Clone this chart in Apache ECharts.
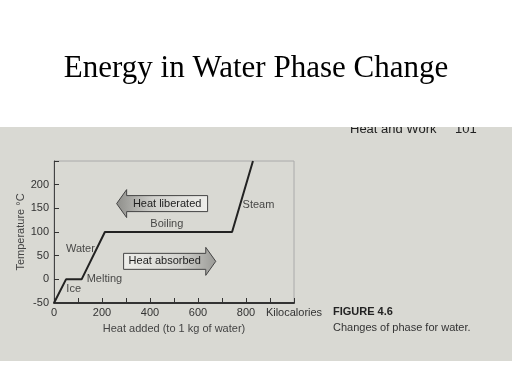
<!DOCTYPE html>
<html><head><meta charset="utf-8">
<script src="https://cdn.jsdelivr.net/npm/echarts@6/dist/echarts.min.js"></script>
<style>html,body{margin:0;padding:0;background:#fff}#c{width:512px;height:384px}</style>
</head><body><div id="c"></div>
<script>
// Heat added (kcal) vs temperature (°C)
var heatAdded = [0, 50, 115, 212, 742, 829];
var temperature = [-50, 0, 0, 100, 100, 250];
var xTicks = [0, 200, 400, 600, 800];
var yTicks = [-50, 0, 50, 100, 150, 200];
var phaseNames = ['Ice', 'Melting', 'Water', 'Boiling', 'Steam'];
var phaseX = [82, 210, 110, 470, 852];
var phaseY = [-21, 0, 65, 116, 158];
var arrowLabels = ['Heat liberated', 'Heat absorbed'];
var arrowTail = [640, 290];
var arrowTip = [261, 674];
var arrowY = [160, 38];

var chart = echarts.init(document.getElementById('c'));
var font = '"Liberation Sans", Arial, sans-serif';

var lineData = heatAdded.map(function (x, i) { return [x, temperature[i]]; });
var labelData = phaseNames.map(function (n, i) { return { name: n, value: [phaseX[i], phaseY[i]] }; });
var arrowData = arrowLabels.map(function (n, i) { return [arrowTail[i], arrowTip[i], arrowY[i]]; });

chart.setOption({
  backgroundColor: '#ffffff',
  animation: false,
  title: {
    text: 'Energy in Water Phase Change',
    left: 'center', top: 48,
    textStyle: { fontFamily: '"Liberation Serif", "Times New Roman", serif', fontSize: 31, fontWeight: 'normal', color: '#000' }
  },
  graphic: [
    { type: 'rect', z: -100, silent: true, shape: { x: 0, y: 120, width: 512, height: 241 }, style: { fill: '#d9d9d3' } },
    { type: 'text', z: -90, silent: true, style: { text: 'Heat and Work', x: 350, y: 129, verticalAlign: 'middle', font: '13px ' + font, fill: '#222' } },
    { type: 'text', z: -90, silent: true, style: { text: '101', x: 455, y: 129, verticalAlign: 'middle', font: '13px ' + font, fill: '#222' } },
    { type: 'rect', z: -80, silent: true, shape: { x: 0, y: 0, width: 512, height: 127 }, style: { fill: '#ffffff' } },
    { type: 'text', silent: true, style: { text: 'FIGURE 4.6', x: 333, y: 312, verticalAlign: 'middle', font: 'bold 11px ' + font, fill: '#222' } },
    { type: 'text', silent: true, style: { text: 'Changes of phase for water.', x: 333, y: 328, verticalAlign: 'middle', font: '11px ' + font, fill: '#333' } }
  ],
  grid: { left: 54, right: 218, top: 161, bottom: 81, show: true, borderColor: '#aaa', borderWidth: 1, backgroundColor: 'transparent' },
  xAxis: {
    type: 'value', min: 0, max: 1000, interval: 100,
    name: 'Heat added (to 1 kg of water)', nameLocation: 'middle', nameGap: 20,
    nameTextStyle: { fontFamily: font, fontSize: 11, color: '#444' },
    axisLine: { show: true, onZero: false, lineStyle: { color: '#333', width: 2 } },
    axisTick: { show: true, inside: true, length: 5, lineStyle: { color: '#333' } },
    splitLine: { show: false },
    axisLabel: {
      margin: 4, fontFamily: font, fontSize: 11, color: '#333', showMaxLabel: true,
      formatter: function (v) { if (xTicks.indexOf(v) >= 0) return String(v); if (v === 1000) return 'Kilocalories'; return ''; }
    }
  },
  yAxis: {
    type: 'value', min: -50, max: 250, interval: 50,
    name: 'Temperature °C', nameLocation: 'middle', nameGap: 28,
    nameTextStyle: { fontFamily: font, fontSize: 11, color: '#444' },
    axisLine: { show: true, onZero: false, lineStyle: { color: '#444', width: 1 } },
    axisTick: { show: true, inside: true, length: 5, lineStyle: { color: '#333' } },
    splitLine: { show: false },
    axisLabel: {
      margin: 5, fontFamily: font, fontSize: 11, color: '#333',
      formatter: function (v) { return yTicks.indexOf(v) >= 0 ? String(v) : ''; }
    }
  },
  series: [
    {
      type: 'line', data: lineData, symbol: 'none', clip: true,
      lineStyle: { color: '#222', width: 2 }, z: 3
    },
    {
      type: 'scatter', data: labelData, symbolSize: 0, z: 4, silent: true,
      label: { show: true, position: 'inside', formatter: '{b}', fontFamily: font, fontSize: 11, color: '#222' }
    },
    {
      type: 'custom', data: arrowData, z: 2, silent: true,
      renderItem: function (params, api) {
        var t = api.coord([api.value(0), api.value(2)]);
        var h = api.coord([api.value(1), api.value(2)]);
        var dir = h[0] > t[0] ? 1 : -1;
        var bh = 8, hh = 14, hl = 10;
        var neck = h[0] - dir * hl;
        var y = t[1];
        var pts = [[t[0], y - bh], [neck, y - bh], [neck, y - hh], [h[0], y], [neck, y + hh], [neck, y + bh], [t[0], y + bh]];
        var stops = dir > 0
          ? [{ offset: 0, color: '#eeeeea' }, { offset: 0.6, color: '#d4d4d0' }, { offset: 1, color: '#9a9a96' }]
          : [{ offset: 0, color: '#8e8e8a' }, { offset: 0.4, color: '#cfcfcb' }, { offset: 1, color: '#efefeb' }];
        return {
          type: 'group',
          children: [
            { type: 'polygon', shape: { points: pts }, style: { fill: new echarts.graphic.LinearGradient(0, 0, 1, 0, stops), stroke: '#444', lineWidth: 1 } },
            { type: 'text', style: { text: arrowLabels[params.dataIndex], x: (t[0] + neck) / 2, y: y, align: 'center', verticalAlign: 'middle', font: '11px ' + font, fill: '#222' } }
          ]
        };
      }
    }
  ]
});
</script></body></html>
